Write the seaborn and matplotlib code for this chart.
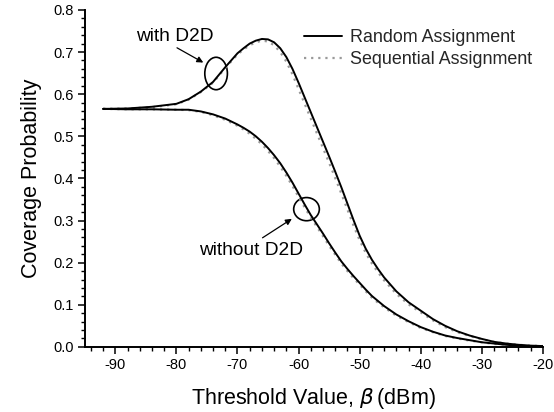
import numpy as np
import pandas as pd
import matplotlib
matplotlib.use("Agg")
import matplotlib.pyplot as plt
import seaborn as sns
from matplotlib.patches import Ellipse
from matplotlib.lines import Line2D
from matplotlib.ticker import MultipleLocator, FormatStrFormatter

# ---- data ----
threshold = [-92, -88, -84, -80, -78, -76, -74, -72, -70, -69, -68, -67, -66, -65, -64,
             -63, -62, -61, -60, -59, -58, -57, -56, -55, -54, -53, -52, -51, -50, -49,
             -48, -47, -46, -44, -42, -40, -38, -36, -34, -32, -30, -28, -26, -24, -22, -20]

with_d2d_random = [0.565, 0.566, 0.570, 0.577, 0.588, 0.606, 0.629, 0.664, 0.697, 0.709,
                   0.720, 0.727, 0.731, 0.730, 0.723, 0.709, 0.688, 0.660, 0.627, 0.592,
                   0.557, 0.522, 0.487, 0.452, 0.416, 0.379, 0.340, 0.301, 0.264, 0.233,
                   0.207, 0.185, 0.165, 0.132, 0.106, 0.086, 0.066, 0.050, 0.037, 0.027,
                   0.019, 0.012, 0.008, 0.005, 0.003, 0.002]
with_d2d_sequential = [0.565, 0.566, 0.569, 0.576, 0.587, 0.605, 0.627, 0.662, 0.694, 0.706,
                       0.716, 0.723, 0.727, 0.725, 0.716, 0.700, 0.677, 0.647, 0.612, 0.577,
                       0.542, 0.507, 0.472, 0.437, 0.401, 0.364, 0.326, 0.288, 0.253, 0.223,
                       0.198, 0.177, 0.158, 0.126, 0.101, 0.082, 0.063, 0.047, 0.035, 0.026,
                       0.018, 0.012, 0.008, 0.005, 0.003, 0.002]
without_d2d_random = [0.565, 0.564, 0.564, 0.563, 0.563, 0.559, 0.552, 0.542, 0.528, 0.520,
                      0.511, 0.500, 0.487, 0.472, 0.455, 0.436, 0.414, 0.390, 0.364, 0.338,
                      0.313, 0.291, 0.269, 0.246, 0.224, 0.203, 0.185, 0.168, 0.152, 0.136,
                      0.121, 0.109, 0.097, 0.077, 0.061, 0.047, 0.036, 0.027, 0.021, 0.016,
                      0.011, 0.008, 0.005, 0.003, 0.002, 0.001]
without_d2d_sequential = [0.565, 0.564, 0.564, 0.563, 0.562, 0.558, 0.550, 0.539, 0.525, 0.516,
                          0.506, 0.494, 0.481, 0.465, 0.448, 0.428, 0.406, 0.382, 0.356, 0.331,
                          0.307, 0.285, 0.263, 0.240, 0.219, 0.198, 0.180, 0.163, 0.148, 0.132,
                          0.117, 0.105, 0.094, 0.074, 0.059, 0.045, 0.035, 0.026, 0.020, 0.015,
                          0.011, 0.007, 0.005, 0.003, 0.002, 0.001]

legend_labels = ["Random Assignment", "Sequential Assignment"]
x_tick_values = [-90, -80, -70, -60, -50, -40, -30, -20]
x_tick_labels = ["-90", "-80", "-70", "-60", "-50", "-40", "-30", "-20"]

# ---- style ----
sns.set_theme(style="ticks")
plt.rcParams["font.family"] = ["Liberation Sans", "DejaVu Sans"]
plt.rcParams["mathtext.fontset"] = "dejavusans"

fig = plt.figure(figsize=(5.54, 4.12), dpi=100)
ax = fig.add_axes([0.153, 0.158, 0.827, 0.818])

dotted_color = "#9a9a9a"
dot_style = (0, (1, 2.2))
for seq in (with_d2d_sequential, without_d2d_sequential):
    sns.lineplot(x=threshold, y=seq, ax=ax, color=dotted_color, lw=1.6,
                 linestyle=dot_style, legend=False)
for rnd in (with_d2d_random, without_d2d_random):
    sns.lineplot(x=threshold, y=rnd, ax=ax, color="black", lw=1.4, legend=False)

ax.set_xlim(-95, -20)
ax.set_ylim(0.0, 0.8)
ax.set_xticks(x_tick_values)
ax.set_xticklabels(x_tick_labels)
ax.xaxis.set_minor_locator(MultipleLocator(2))
ax.yaxis.set_major_locator(MultipleLocator(0.1))
ax.yaxis.set_minor_locator(MultipleLocator(0.02))
ax.yaxis.set_major_formatter(FormatStrFormatter("%.1f"))

ax.tick_params(axis="both", which="major", direction="out", length=5, width=1.1,
               labelsize=10.5, color="black", labelcolor="black", pad=3)
ax.tick_params(axis="both", which="minor", direction="out", length=3, width=1.0,
               color="black")
for side in ("top", "right"):
    ax.spines[side].set_visible(False)
for side in ("left", "bottom"):
    ax.spines[side].set_color("black")
    ax.spines[side].set_linewidth(1.4)

ax.set_xlabel(r"Threshold Value, $\beta\,$(dBm)", fontsize=15.5, labelpad=10, color="black")
ax.set_ylabel("Coverage Probability", fontsize=15.5, labelpad=8, color="black")

handles = [Line2D([], [], color="black", lw=1.4),
           Line2D([], [], color=dotted_color, lw=1.6, linestyle=dot_style)]
ax.legend(handles, legend_labels, loc="upper right", frameon=False, fontsize=12.9,
          handlelength=2.1, handletextpad=0.45, labelspacing=0.3,
          bbox_to_anchor=(1.0, 0.975), borderaxespad=0.2)

# annotations
ax.add_patch(Ellipse((-73.5, 0.649), 3.7, 0.077, fill=False, ec="black", lw=1.2))
ax.add_patch(Ellipse((-58.7, 0.327), 4.2, 0.055, fill=False, ec="black", lw=1.2))
ax.text(-80.2, 0.736, "with D2D", fontsize=13.8, ha="center", va="center", color="black")
ax.text(-67.8, 0.229, "without D2D", fontsize=13.8, ha="center", va="center", color="black")
arrow_kw = dict(arrowstyle="-|>", color="black", lw=0.9, mutation_scale=9,
                shrinkA=0, shrinkB=0)
ax.annotate("", xy=(-75.6, 0.675), xytext=(-79.9, 0.710), arrowprops=arrow_kw)
ax.annotate("", xy=(-61.1, 0.304), xytext=(-65.9, 0.259), arrowprops=arrow_kw)

fig.savefig("out.png", dpi=100)
